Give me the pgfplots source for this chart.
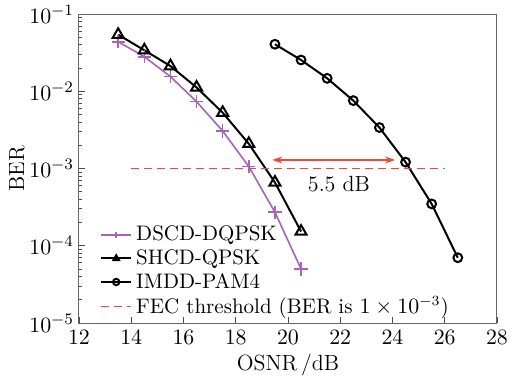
\documentclass[border=0pt]{standalone}
\usepackage{pgfplots}
\pgfplotsset{compat=1.18}
\usetikzlibrary{arrows.meta}
\definecolor{mypurple}{RGB}{168,98,188}
\definecolor{myred}{RGB}{245,70,60}
\begin{document}
\begin{tikzpicture}
\begin{axis}[
  at={(0,0)}, anchor=south west,
  scale only axis, width=209pt, height=154.5pt,
  ymode=log, xmin=12, xmax=28, ymin=1e-5, ymax=1e-1,
  xtick={12,14,...,28},
  ytick={1e-5,1e-4,1e-3,1e-2,1e-1},
  tick pos=left, tick align=inside,
  axis line style={draw=black!60, line width=0.5pt},
  every tick/.style={black!70},
  major tick length=3pt, minor tick length=1.6pt,
  tick label style={font=\fontsize{11}{13}\selectfont},
  label style={font=\fontsize{11}{13}\selectfont},
  yticklabel style={xshift=1pt},
  xlabel={OSNR\,/dB}, ylabel={BER},
  xlabel style={yshift=2pt},
  ylabel style={yshift=-4.5pt},
  legend style={at={(0.045,0.0)}, anchor=south west, draw=none, fill=none,
    font=\fontsize{10.5}{12}\selectfont, row sep=-1.2pt, inner sep=1pt},
  legend cell align=left,
  legend image code/.code={\draw[#1] (0pt,0pt) -- (15pt,0pt); \draw[#1,only marks,mark size=1.6pt] plot coordinates {(7.5pt,0pt)};},
]
\addplot[mypurple, line width=0.8pt, mark=+, mark size=3.3pt, mark options={line width=0.8pt}] coordinates {
(13.5,0.0438) (14.5,0.028) (15.5,0.0155) (16.5,0.00734) (17.5,0.00306) (18.5,0.00106) (19.5,2.72e-4) (20.5,5.0e-5)};
\addlegendentry{DSCD-DQPSK}
\addplot[black, line width=1pt, mark=triangle, mark size=3.2pt, mark options={line width=1pt}] coordinates {
(13.5,0.054) (14.5,0.034) (15.5,0.0212) (16.5,0.0112) (17.5,0.00528) (18.5,0.00209) (19.5,6.6e-4) (20.5,1.53e-4)};
\addlegendentry{SHCD-QPSK}
\addplot[black, line width=1pt, mark=o, mark size=2.2pt, mark options={line width=1pt}] coordinates {
(19.5,0.0406) (20.5,0.0254) (21.5,0.0147) (22.5,0.00757) (23.5,0.00339) (24.5,0.00121) (25.5,3.48e-4) (26.5,7.0e-5)};
\addlegendentry{IMDD-PAM4}
\addplot[myred, line width=0.6pt, dash pattern=on 4pt off 2.5pt] coordinates {(14,1e-3) (26,1e-3)};
\addlegendentry{FEC threshold (BER is $1\times10^{-3}$)}
\draw[myred, line width=0.6pt, {Stealth[length=5pt,width=3.5pt]}-{Stealth[length=5pt,width=3.5pt]}] (axis cs:19.4,1.29e-3) -- (axis cs:24.1,1.29e-3);
\node[font=\fontsize{11}{13}\selectfont] at (axis cs:21.95,6.2e-4) {5.5 dB};
\end{axis}
\pgfresetboundingbox
\useasboundingbox (-39.5pt,-28.5pt) rectangle (218pt,161.5pt);
\end{tikzpicture}
\end{document}
